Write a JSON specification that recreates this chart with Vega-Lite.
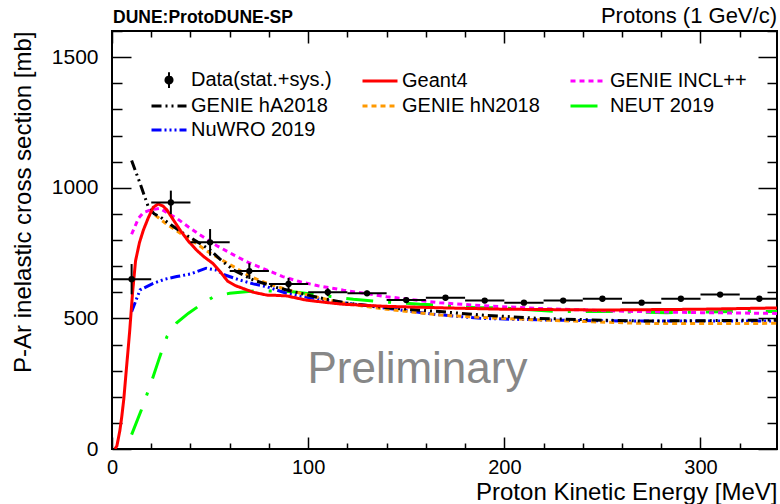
{
  "$schema": "https://vega.github.io/schema/vega-lite/v6.json",
  "width": 665,
  "height": 418,
  "autosize": {"type": "none"},
  "padding": {"left": 112, "top": 31, "right": 3, "bottom": 55},
  "background": "white",
  "config": {
    "view": {"stroke": "black", "strokeWidth": 2},
    "font": "Liberation Sans",
    "axis": {"grid": false, "domain": false, "tickColor": "black", "tickWidth": 1.5, "labelColor": "black", "titleColor": "black", "labelFont": "Liberation Sans", "titleFont": "Liberation Sans"}
  },
  "datasets": {
    "points": [
      {"E": 10, "E0": 0, "E1": 20, "xs": 650, "lo": 592, "hi": 708},
      {"E": 30, "E0": 20, "E1": 40, "xs": 944, "lo": 899, "hi": 989},
      {"E": 50, "E0": 40, "E1": 60, "xs": 791, "lo": 740, "hi": 842},
      {"E": 70, "E0": 60, "E1": 80, "xs": 681, "lo": 651, "hi": 711},
      {"E": 90, "E0": 80, "E1": 100, "xs": 632, "lo": 610, "hi": 655},
      {"E": 110, "E0": 100, "E1": 120, "xs": 600, "lo": 585, "hi": 615},
      {"E": 130, "E0": 120, "E1": 140, "xs": 596, "lo": 586, "hi": 606},
      {"E": 150, "E0": 140, "E1": 160, "xs": 570, "lo": 561, "hi": 579},
      {"E": 170, "E0": 160, "E1": 180, "xs": 579, "lo": 570, "hi": 588},
      {"E": 190, "E0": 180, "E1": 200, "xs": 568, "lo": 559, "hi": 577},
      {"E": 210, "E0": 200, "E1": 220, "xs": 560, "lo": 551, "hi": 569},
      {"E": 230, "E0": 220, "E1": 240, "xs": 568, "lo": 559, "hi": 577},
      {"E": 250, "E0": 240, "E1": 260, "xs": 575, "lo": 566, "hi": 584},
      {"E": 270, "E0": 260, "E1": 280, "xs": 560, "lo": 551, "hi": 569},
      {"E": 290, "E0": 280, "E1": 300, "xs": 575, "lo": 566, "hi": 584},
      {"E": 310, "E0": 300, "E1": 320, "xs": 591, "lo": 582, "hi": 600},
      {"E": 330, "E0": 320, "E1": 340, "xs": 575, "lo": 566, "hi": 584}
    ],
    "models": [
      {"model": "NEUT 2019", "E": 10, "xs": 55}, {"model": "NEUT 2019", "E": 15, "xs": 150}, {"model": "NEUT 2019", "E": 20, "xs": 255}, {"model": "NEUT 2019", "E": 24, "xs": 345}, {"model": "NEUT 2019", "E": 28, "xs": 430}, {"model": "NEUT 2019", "E": 33, "xs": 483}, {"model": "NEUT 2019", "E": 39, "xs": 520}, {"model": "NEUT 2019", "E": 45, "xs": 551}, {"model": "NEUT 2019", "E": 52, "xs": 584}, {"model": "NEUT 2019", "E": 60, "xs": 596}, {"model": "NEUT 2019", "E": 74, "xs": 606}, {"model": "NEUT 2019", "E": 92, "xs": 602}, {"model": "NEUT 2019", "E": 106, "xs": 589}, {"model": "NEUT 2019", "E": 123, "xs": 573}, {"model": "NEUT 2019", "E": 137, "xs": 564}, {"model": "NEUT 2019", "E": 157, "xs": 554}, {"model": "NEUT 2019", "E": 167, "xs": 551}, {"model": "NEUT 2019", "E": 186, "xs": 541}, {"model": "NEUT 2019", "E": 200, "xs": 540}, {"model": "NEUT 2019", "E": 225, "xs": 527}, {"model": "NEUT 2019", "E": 255, "xs": 526}, {"model": "NEUT 2019", "E": 283, "xs": 522}, {"model": "NEUT 2019", "E": 316, "xs": 526}, {"model": "NEUT 2019", "E": 339, "xs": 526},
      {"model": "NuWRO 2019", "E": 10, "xs": 526}, {"model": "NuWRO 2019", "E": 14.3, "xs": 609}, {"model": "NuWRO 2019", "E": 21, "xs": 634}, {"model": "NuWRO 2019", "E": 27, "xs": 650}, {"model": "NuWRO 2019", "E": 33, "xs": 660}, {"model": "NuWRO 2019", "E": 40, "xs": 670}, {"model": "NuWRO 2019", "E": 48, "xs": 692}, {"model": "NuWRO 2019", "E": 53, "xs": 685}, {"model": "NuWRO 2019", "E": 58, "xs": 665}, {"model": "NuWRO 2019", "E": 65, "xs": 647}, {"model": "NuWRO 2019", "E": 72, "xs": 632}, {"model": "NuWRO 2019", "E": 79, "xs": 621}, {"model": "NuWRO 2019", "E": 89, "xs": 596}, {"model": "NuWRO 2019", "E": 100, "xs": 580}, {"model": "NuWRO 2019", "E": 120, "xs": 558}, {"model": "NuWRO 2019", "E": 141, "xs": 538}, {"model": "NuWRO 2019", "E": 165, "xs": 515}, {"model": "NuWRO 2019", "E": 188, "xs": 500}, {"model": "NuWRO 2019", "E": 218, "xs": 494}, {"model": "NuWRO 2019", "E": 245, "xs": 491}, {"model": "NuWRO 2019", "E": 269, "xs": 490}, {"model": "NuWRO 2019", "E": 300, "xs": 490}, {"model": "NuWRO 2019", "E": 339, "xs": 490},
      {"model": "GENIE hN2018", "E": 22, "xs": 895}, {"model": "GENIE hN2018", "E": 28.5, "xs": 857}, {"model": "GENIE hN2018", "E": 35, "xs": 825}, {"model": "GENIE hN2018", "E": 41.5, "xs": 794}, {"model": "GENIE hN2018", "E": 50, "xs": 750}, {"model": "GENIE hN2018", "E": 62, "xs": 698}, {"model": "GENIE hN2018", "E": 70, "xs": 662}, {"model": "GENIE hN2018", "E": 79, "xs": 634}, {"model": "GENIE hN2018", "E": 88, "xs": 613}, {"model": "GENIE hN2018", "E": 96, "xs": 596}, {"model": "GENIE hN2018", "E": 108, "xs": 575}, {"model": "GENIE hN2018", "E": 120, "xs": 556}, {"model": "GENIE hN2018", "E": 140, "xs": 535}, {"model": "GENIE hN2018", "E": 167, "xs": 513}, {"model": "GENIE hN2018", "E": 190, "xs": 503}, {"model": "GENIE hN2018", "E": 218, "xs": 494}, {"model": "GENIE hN2018", "E": 245, "xs": 487}, {"model": "GENIE hN2018", "E": 269, "xs": 481}, {"model": "GENIE hN2018", "E": 300, "xs": 480}, {"model": "GENIE hN2018", "E": 339, "xs": 481},
      {"model": "GENIE hA2018", "E": 10, "xs": 1104}, {"model": "GENIE hA2018", "E": 14.3, "xs": 1017}, {"model": "GENIE hA2018", "E": 18.5, "xs": 927}, {"model": "GENIE hA2018", "E": 21.5, "xs": 900}, {"model": "GENIE hA2018", "E": 24.5, "xs": 889}, {"model": "GENIE hA2018", "E": 30, "xs": 858}, {"model": "GENIE hA2018", "E": 36.3, "xs": 826}, {"model": "GENIE hA2018", "E": 43, "xs": 795}, {"model": "GENIE hA2018", "E": 50, "xs": 762}, {"model": "GENIE hA2018", "E": 56, "xs": 720}, {"model": "GENIE hA2018", "E": 62, "xs": 685}, {"model": "GENIE hA2018", "E": 72, "xs": 647}, {"model": "GENIE hA2018", "E": 84, "xs": 618}, {"model": "GENIE hA2018", "E": 96, "xs": 596}, {"model": "GENIE hA2018", "E": 108, "xs": 575}, {"model": "GENIE hA2018", "E": 120, "xs": 558}, {"model": "GENIE hA2018", "E": 140, "xs": 541}, {"model": "GENIE hA2018", "E": 167, "xs": 526}, {"model": "GENIE hA2018", "E": 190, "xs": 512}, {"model": "GENIE hA2018", "E": 218, "xs": 500}, {"model": "GENIE hA2018", "E": 245, "xs": 494}, {"model": "GENIE hA2018", "E": 269, "xs": 490}, {"model": "GENIE hA2018", "E": 300, "xs": 491}, {"model": "GENIE hA2018", "E": 339, "xs": 494},
      {"model": "GENIE INCL++", "E": 10, "xs": 822}, {"model": "GENIE INCL++", "E": 13.5, "xs": 883}, {"model": "GENIE INCL++", "E": 16, "xs": 905}, {"model": "GENIE INCL++", "E": 19.5, "xs": 915}, {"model": "GENIE INCL++", "E": 24.5, "xs": 921}, {"model": "GENIE INCL++", "E": 28, "xs": 905}, {"model": "GENIE INCL++", "E": 33, "xs": 883}, {"model": "GENIE INCL++", "E": 39, "xs": 850}, {"model": "GENIE INCL++", "E": 45, "xs": 819}, {"model": "GENIE INCL++", "E": 53, "xs": 780}, {"model": "GENIE INCL++", "E": 62, "xs": 743}, {"model": "GENIE INCL++", "E": 70, "xs": 712}, {"model": "GENIE INCL++", "E": 79, "xs": 685}, {"model": "GENIE INCL++", "E": 87, "xs": 660}, {"model": "GENIE INCL++", "E": 96, "xs": 640}, {"model": "GENIE INCL++", "E": 105, "xs": 625}, {"model": "GENIE INCL++", "E": 118, "xs": 608}, {"model": "GENIE INCL++", "E": 140, "xs": 583}, {"model": "GENIE INCL++", "E": 167, "xs": 560}, {"model": "GENIE INCL++", "E": 190, "xs": 548}, {"model": "GENIE INCL++", "E": 218, "xs": 538}, {"model": "GENIE INCL++", "E": 245, "xs": 531}, {"model": "GENIE INCL++", "E": 269, "xs": 526}, {"model": "GENIE INCL++", "E": 300, "xs": 522}, {"model": "GENIE INCL++", "E": 339, "xs": 519},
      {"model": "Geant4", "E": 1.5, "xs": 0}, {"model": "Geant4", "E": 2.5, "xs": 12}, {"model": "Geant4", "E": 4, "xs": 70}, {"model": "Geant4", "E": 5, "xs": 125}, {"model": "Geant4", "E": 6, "xs": 190}, {"model": "Geant4", "E": 7.5, "xs": 320}, {"model": "Geant4", "E": 9, "xs": 450}, {"model": "Geant4", "E": 10.5, "xs": 600}, {"model": "Geant4", "E": 12, "xs": 720}, {"model": "Geant4", "E": 14, "xs": 790}, {"model": "Geant4", "E": 16, "xs": 838}, {"model": "Geant4", "E": 18.5, "xs": 885}, {"model": "Geant4", "E": 21, "xs": 925}, {"model": "Geant4", "E": 23.5, "xs": 938}, {"model": "Geant4", "E": 26, "xs": 930}, {"model": "Geant4", "E": 28, "xs": 915}, {"model": "Geant4", "E": 31, "xs": 880}, {"model": "Geant4", "E": 35, "xs": 835}, {"model": "Geant4", "E": 39, "xs": 795}, {"model": "Geant4", "E": 43, "xs": 762}, {"model": "Geant4", "E": 47, "xs": 735}, {"model": "Geant4", "E": 51.5, "xs": 710}, {"model": "Geant4", "E": 55, "xs": 680}, {"model": "Geant4", "E": 59, "xs": 642}, {"model": "Geant4", "E": 63, "xs": 625}, {"model": "Geant4", "E": 67, "xs": 614}, {"model": "Geant4", "E": 72, "xs": 600}, {"model": "Geant4", "E": 79, "xs": 589}, {"model": "Geant4", "E": 84, "xs": 588}, {"model": "Geant4", "E": 89, "xs": 586}, {"model": "Geant4", "E": 99, "xs": 570}, {"model": "Geant4", "E": 109, "xs": 561}, {"model": "Geant4", "E": 118, "xs": 554}, {"model": "Geant4", "E": 140, "xs": 546}, {"model": "Geant4", "E": 170, "xs": 540}, {"model": "Geant4", "E": 200, "xs": 535}, {"model": "Geant4", "E": 250, "xs": 532}, {"model": "Geant4", "E": 300, "xs": 535}, {"model": "Geant4", "E": 339, "xs": 540}
    ]
  },
  "layer": [
    {
      "data": {"name": "models"},
      "mark": {"type": "line", "strokeWidth": 3, "clip": true},
      "encoding": {
        "x": {"field": "E", "type": "quantitative", "scale": {"domain": [0, 339], "nice": false, "zero": false}, "axis": null},
        "y": {"field": "xs", "type": "quantitative", "scale": {"domain": [0, 1600], "nice": false}, "axis": null},
        "color": {
          "field": "model", "type": "nominal",
          "scale": {"domain": ["Data(stat.+sys.)", "Geant4", "GENIE INCL++", "GENIE hA2018", "GENIE hN2018", "NEUT 2019", "NuWRO 2019"], "range": ["#000000", "#ff0000", "#ff00ff", "#000000", "#ff9900", "#00ff00", "#0000ff"]},
          "legend": {
            "title": null, "orient": "none", "direction": "horizontal", "legendX": 47, "legendY": 39, "columns": 3, "columnPadding": 24, "rowPadding": 4, "padding": 0,
            "symbolType": "stroke", "symbolSize": 1225, "symbolStrokeWidth": 3,
            "labelFont": "Liberation Sans", "labelFontSize": 20, "labelColor": "black", "labelOffset": 12, "labelLimit": 0,
            "encode": {
              "symbols": {
                "update": {
                  "shape": {"signal": "datum.value === 'Data(stat.+sys.)' ? 'M0,-0.45L0,0.45M-0.2,0A0.2,0.2,0,1,1,0.2,0A0.2,0.2,0,1,1,-0.2,0Z' : 'stroke'"},
                  "fill": {"signal": "datum.value === 'Data(stat.+sys.)' ? 'black' : 'transparent'"},
                  "strokeDash": {"scale": "strokeDash", "field": "value"},
                  "strokeWidth": {"signal": "datum.value === 'Data(stat.+sys.)' ? 2 : 3"}
                }
              }
            }
          }
        },
        "strokeDash": {
          "field": "model", "type": "nominal",
          "scale": {"domain": ["Data(stat.+sys.)", "Geant4", "GENIE INCL++", "GENIE hA2018", "GENIE hN2018", "NEUT 2019", "NuWRO 2019"], "range": [[1, 0], [1, 0], [5, 4], [10, 4, 2, 4, 2, 4], [5, 4], [27, 15, 3, 15], [10, 3, 2, 3, 2, 3, 2, 3]]},
          "legend": null
        }
      }
    },
    {
      "data": {"name": "points"},
      "mark": {"type": "rule", "stroke": "black", "strokeWidth": 2, "clip": true},
      "encoding": {
        "x": {"field": "E", "type": "quantitative",
          "axis": {"orient": "bottom", "values": [0, 20, 40, 60, 80, 100, 120, 140, 160, 180, 200, 220, 240, 260, 280, 300, 320],
            "tickSize": {"condition": {"test": "datum.value % 100 === 0", "value": -12}, "value": -6},
            "labelExpr": "datum.value % 100 === 0 ? datum.label : ''", "format": "d",
            "labelFontSize": 20, "labelPadding": 20, "labelFlush": false,
            "title": "Proton Kinetic Energy [MeV]", "titleFontSize": 24, "titleFontWeight": "normal",
            "titleX": 665, "titleY": 50, "titleAlign": "right", "titleBaseline": "alphabetic"}},
        "y": {"field": "lo", "type": "quantitative",
          "axis": {"orient": "left", "values": [0, 100, 200, 300, 400, 500, 600, 700, 800, 900, 1000, 1100, 1200, 1300, 1400, 1500, 1600],
            "tickSize": {"condition": {"test": "datum.value % 500 === 0", "value": -19}, "value": -10},
            "labelExpr": "datum.value % 500 === 0 ? datum.label : ''", "format": "d",
            "labelFontSize": 21, "labelPadding": 33, "labelFlush": false,
            "title": "P-Ar inelastic cross section [mb]", "titleFontSize": 24, "titleFontWeight": "normal",
            "titleX": -82, "titleY": 0, "titleAngle": -90, "titleAlign": "right", "titleBaseline": "alphabetic"}},
        "y2": {"field": "hi"}
      }
    },
    {
      "data": {"name": "points"},
      "mark": {"type": "rule", "stroke": "black", "strokeWidth": 2, "clip": true},
      "encoding": {
        "x": {"field": "E0", "type": "quantitative",
          "axis": {"orient": "top", "values": [0, 20, 40, 60, 80, 100, 120, 140, 160, 180, 200, 220, 240, 260, 280, 300, 320],
            "tickSize": {"condition": {"test": "datum.value % 100 === 0", "value": -12}, "value": -6},
            "labels": false, "title": null}},
        "x2": {"field": "E1"},
        "y": {"field": "xs", "type": "quantitative",
          "axis": {"orient": "right", "values": [0, 100, 200, 300, 400, 500, 600, 700, 800, 900, 1000, 1100, 1200, 1300, 1400, 1500, 1600],
            "tickSize": {"condition": {"test": "datum.value % 500 === 0", "value": -19}, "value": -10},
            "labels": false, "title": null}}
      }
    },
    {
      "data": {"name": "points"},
      "mark": {"type": "point", "filled": true, "color": "black", "size": 40, "opacity": 1},
      "encoding": {
        "x": {"field": "E", "type": "quantitative", "axis": null},
        "y": {"field": "xs", "type": "quantitative", "axis": null}
      }
    },
    {
      "data": {"values": [{}]},
      "mark": {"type": "text", "text": "Preliminary", "align": "center", "baseline": "alphabetic", "fontSize": 44, "font": "Liberation Sans", "color": "#878787"},
      "encoding": {
        "x": {"datum": 155.7, "type": "quantitative", "axis": null},
        "y": {"datum": 252, "type": "quantitative", "axis": null}
      }
    },
    {
      "data": {"values": [{}]},
      "mark": {"type": "text", "text": "DUNE:ProtoDUNE-SP", "align": "left", "baseline": "alphabetic", "dx": 1, "dy": -8, "fontSize": 17.5, "fontWeight": "bold", "font": "Liberation Sans", "color": "black"},
      "encoding": {
        "x": {"datum": 0, "type": "quantitative", "axis": null},
        "y": {"datum": 1600, "type": "quantitative", "axis": null}
      }
    },
    {
      "data": {"values": [{}]},
      "mark": {"type": "text", "text": "Protons (1 GeV/c)", "align": "right", "baseline": "alphabetic", "dy": -8, "fontSize": 22, "font": "Liberation Sans", "color": "black"},
      "encoding": {
        "x": {"datum": 339, "type": "quantitative", "axis": null},
        "y": {"datum": 1600, "type": "quantitative", "axis": null}
      }
    }
  ],
  "resolve": {"axis": {"x": "independent", "y": "independent"}}
}
